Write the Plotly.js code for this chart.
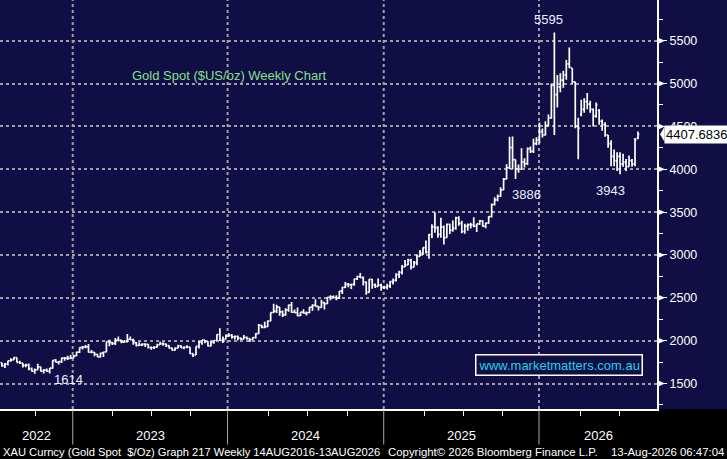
<!DOCTYPE html>
<html>
<head>
<meta charset="utf-8">
<script src="https://cdn.plot.ly/plotly-3.0.1.min.js"></script>
<style>
  html, body { margin: 0; padding: 0; background: #100e42; }
  #chart { width: 727px; height: 459px; }
</style>
</head>
<body>
<div id="chart"></div>
<script>
// Weekly XAU bars, first bar week ending 15 Jul 2022
const firstWeek = '2022-07-15';

const opens = [
  1742,1708,1727,1766,1775,1802,1747,1738,1712,1716,1675,1644,1660,1695,1644,1657,1645,1681,1771,1751,1755,1797,1797,1793,1798,
  1824,1866,1920,1926,1928,1865,1865,1842,1811,1856, 1868,1989,1978,1969,2008,2004,1983,1990,2017,2011,
  1978,1946,1948,1961,1958,1921,1919,1925,1955,1962, 1959,1943,1914,1889,1914,1940,1919,1924,1925,1849,
  1833,1933,1981,2006,1993,1940,1981,2002,2072,2004, 2019,2053,
  2063,2045,2049,2029,2018,2039,2024,2013,2036,2083, 2179,2155,2165,2230,2329,2344,2392,2337,2302,2360,
  2415,2334,2327,2293,2333,2322,2326,2392,2411,2401, 2387,2443,2431,2507,2512,2503,2497,2578,2622,2658,
  2653,2657,2721,2747,2736,2685,2563,2715,2650,2633, 2648,2622,
  2621,2640,2690,2703,2770,2798,2861,2883,2936,2858, 2910,2984,3023,3085,3037,3237,3327,3319,3240,3325,
  3202,3357,3289,3310,3433,3368,3274,3337,3355,3350, 3337,3363,3398,3336,3372,3448,3587,3643,3685,3760,
  3886,4018,4252,4112,
  4000,4000,4085,4065,4240,4210,4300,4340,4440,4400, 4510,4600,4980,4870,4960,5040,5100,5230,5180,5020,
  4500,4640,4700,4790,4760,4700,4620,4690,4560,4520, 4400,4300,4150,4100,4150,4060,4080,4030,4100,4060,
  4360
];
const highs = [
  1745,1739,1767,1795,1808,1803,1765,1740,1730,1735,1688,1676,1730,1697,1669,1675,1681,1772,1787,1761,1804,1810,1824,1833,1833,
  1870,1922,1937,1949,1960,1890,1869,1846,1858,1870, 1990,2010,1988,2032,2049,2015,2009,2079,2048,2022,
  1984,1983,1971,1971,1961,1931,1935,1963,1987,1982, 1967,1947,1917,1924,1953,1947,1931,1947,1926,1851,
  1933,1997,2009,2007,1994,1993,2007,2075,2146,2048, 2071,2088,
  2078,2062,2062,2036,2065,2048,2025,2041,2088,2195, 2185,2222,2236,2330,2431,2418,2392,2353,2378,2422,
  2450,2364,2387,2333,2368,2340,2393,2424,2484,2406, 2477,2450,2509,2531,2526,2529,2581,2625,2686,2672,
  2664,2722,2758,2790,2750,2690,2721,2721,2666,2726, 2664,2640,
  2665,2697,2726,2786,2817,2882,2942,2955,2956,2930, 3005,3057,3087,3168,3245,3358,3500,3335,3435,3345,
  3366,3365,3403,3446,3451,3398,3365,3368,3375,3439, 3363,3409,3405,3378,3453,3600,3675,3707,3791,3897,
  4059,4380,4381,4114,
  4055,4245,4130,4255,4265,4355,4375,4545,4475,4560, 4640,5000,5595,5100,5120,5150,5276,5420,5180,5020,
  4600,4810,4830,4890,4800,4710,4780,4700,4580,4550, 4400,4340,4230,4200,4200,4180,4120,4160,4120,4365,
  4440
];
const lows = [
  1697,1681,1711,1754,1774,1745,1728,1688,1691,1654,1640,1614,1660,1640,1617,1637,1616,1672,1749,1721,1739,1766,1774,1785,1795,
  1822,1856,1897,1912,1861,1853,1819,1809,1805,1809, 1865,1934,1949,1950,1992,1969,1975,1978,2007,1952,
  1932,1940,1939,1925,1910,1893,1902,1921,1954,1942, 1927,1909,1885,1885,1913,1914,1901,1913,1846,1810,
  1832,1908,1953,1970,1931,1932,1965,1999,1995,1973, 2016,2045,
  2024,2013,2001,2010,2016,2015,1984,2011,2025,2078, 2146,2146,2160,2228,2319,2324,2291,2277,2292,2338,
  2325,2326,2286,2287,2316,2293,2319,2350,2398,2353, 2383,2364,2429,2471,2491,2472,2485,2546,2614,2624,
  2603,2640,2708,2732,2643,2537,2563,2605,2614,2631, 2583,2602,
  2597,2615,2657,2690,2730,2772,2860,2880,2832,2857, 2880,2982,3000,3015,2957,3194,3260,3202,3202,3121,
  3200,3245,3271,3294,3340,3255,3247,3283,3310,3325, 3268,3350,3330,3311,3365,3436,3578,3627,3680,3759,
  3884,4003,4004,3886,
  3960,3995,4020,4050,4190,4190,4280,4300,4370,4395, 4500,4590,4400,4720,4900,4950,5044,5180,5000,4480,
  4116,4620,4660,4700,4660,4500,4600,4520,4450,4380, 4250,4035,4035,3980,3943,4030,3980,4030,4030,4035,
  4350
];
const closes = [
  1708,1727,1766,1775,1802,1747,1738,1712,1716,1675,1644,1660,1695,1644,1657,1645,1681,1771,1751,1755,1797,1797,1793,1798,1824,
  1866,1920,1926,1928,1865,1865,1842,1811,1856,1868, 1989,1978,1969,2008,2004,1983,1990,2017,2011,1978,
  1946,1948,1961,1958,1921,1919,1925,1955,1962,1959, 1943,1914,1889,1914,1940,1919,1924,1925,1849,1833,
  1933,1981,2006,1993,1940,1981,2002,2072,2004,2019, 2053,2063,
  2045,2049,2029,2018,2039,2024,2013,2036,2083,2179, 2155,2165,2230,2329,2344,2392,2337,2302,2360,2415,
  2334,2327,2293,2333,2322,2326,2392,2411,2401,2387, 2443,2431,2507,2512,2503,2497,2578,2622,2658,2653,
  2657,2721,2747,2736,2685,2563,2715,2650,2633,2648, 2622,2621,
  2640,2690,2703,2770,2798,2861,2883,2936,2858,2910, 2984,3023,3085,3037,3237,3327,3319,3240,3325,3202,
  3357,3289,3310,3433,3368,3274,3337,3355,3350,3337, 3363,3398,3336,3372,3448,3587,3643,3685,3760,3886,
  4018,4252,4112,4003,
  4000,4085,4065,4240,4210,4300,4340,4440,4400,4510, 4600,4980,4870,4960,5040,5100,5230,5190,5020,4500,
  4480,4700,4790,4760,4700,4620,4750,4560,4520,4400, 4300,4150,4100,4150,4060,4080,4030,4100,4060,4340,
  4407.6836
];

// year separators (Bloomberg draws them at the last bar of each year)
const yearLines = ['2022-12-28', '2023-12-26', '2024-12-26', '2025-12-25'];
const yearLabels = ['2022', '2023', '2024', '2025', '2026'];
const quarterTicks = ['2022-10-01', '2023-04-01', '2023-07-01', '2023-10-01', '2024-04-01', '2024-07-01',
  '2024-10-01', '2025-04-01', '2025-07-01', '2025-10-01', '2026-04-01', '2026-07-01'];
const priceTicks = [1500, 2000, 2500, 3000, 3500, 4000, 4500, 5000, 5500];

// labelled extremes: [text, bar index, value, above?, xshift, yshift]
const callouts = [
  ['5595', 185, 5595, true, -6, 4],
  ['3886', 172, 3886, false, 11, -6],
  ['3943', 207, 3943, false, -10, -7],
  ['1614', 11, 1614, false, 34, 4]
];
const lastPrice = closes[closes.length - 1];

const xRange = ['2022-07-10 13:00', '2026-09-27 14:00'];
const yRange = [1203, 5975];

function addDays(iso, n) {
  const d = new Date(iso + 'T00:00:00Z');
  d.setUTCDate(d.getUTCDate() + n);
  return d.toISOString().slice(0, 10);
}
const weeks = opens.map((_, i) => addDays(firstWeek, 7 * i));

const NAVY = '#100e44';
const GRID = '#a0a0aa';
const FONT = 'Liberation Sans, Arial, sans-serif';
const perPx = (yRange[1] - yRange[0]) / 409;

const trace = {
  type: 'ohlc',
  x: weeks,
  open: opens,
  high: highs,
  low: lows,
  close: closes,
  increasing: { line: { color: '#ffffff', width: 1.7 } },
  decreasing: { line: { color: '#ffffff', width: 1.7 } },
  tickwidth: 0.45,
  hoverinfo: 'skip',
  showlegend: false
};

const shapes = [];
// black footer strip under the plot
shapes.push({
  type: 'rect', xref: 'paper', yref: 'paper', layer: 'below',
  x0: -0.02, x1: 1.2, y0: -0.2, y1: 0,
  fillcolor: '#000000', line: { width: 0 }
});
yearLines.forEach(d => {
  shapes.push({
    type: 'line', xref: 'x', yref: 'paper', layer: 'below',
    x0: d, x1: d, y0: 0, y1: 1,
    line: { color: GRID, width: 2, dash: 'dot' }
  });
  shapes.push({
    type: 'line', xref: 'x', yref: 'paper',
    x0: d, x1: d, y0: -0.087, y1: -0.003,
    line: { color: '#a8a8a8', width: 1 }
  });
});
// arrow heads on the price ticks
priceTicks.forEach(v => {
  shapes.push({
    type: 'path', xref: 'paper', yref: 'y',
    path: 'M 1 ' + (v + 3.5 * perPx) + ' L ' + (665 / 657) + ' ' + v + ' L 1 ' + (v - 3.5 * perPx) + ' Z',
    fillcolor: '#ffffff', line: { width: 0 }
  });
});
// pointer of the last price box
shapes.push({
  type: 'path', xref: 'paper', yref: 'y',
  path: 'M ' + (660 / 657) + ' ' + lastPrice + ' L ' + (664.5 / 657) + ' ' + (lastPrice + 7.5 * perPx) +
        ' L ' + (664.5 / 657) + ' ' + (lastPrice - 7.5 * perPx) + ' Z',
  fillcolor: '#ffffff', line: { width: 0 }
});

const annotations = [];
const bounds = [xRange[0]].concat(yearLines, [xRange[1]]);
yearLabels.forEach((y, i) => {
  const a = new Date(bounds[i].replace(' ', 'T') + 'Z').getTime();
  const b = new Date(bounds[i + 1].replace(' ', 'T') + 'Z').getTime();
  annotations.push({
    xref: 'x', yref: 'paper', x: new Date((a + b) / 2).toISOString().slice(0, 19).replace('T', ' '),
    y: -0.064, text: y, showarrow: false, xanchor: 'center', yanchor: 'middle',
    font: { family: FONT, size: 13, color: '#ffffff' }
  });
});

const footFont = { family: FONT, size: 11.4, color: '#ffffff' };
annotations.push(
  { xref: 'paper', yref: 'paper', x: 1 / 657, y: -0.106, xanchor: 'left', yanchor: 'middle', showarrow: false,
    text: 'XAU Curncy (Gold Spot&nbsp;&nbsp;$/Oz) Graph 217 Weekly 14AUG2016-13AUG2026',
    font: { family: FONT, size: 11.2, color: '#ffffff' } },
  { xref: 'paper', yref: 'paper', x: 386 / 657, y: -0.106, xanchor: 'left', yanchor: 'middle', showarrow: false,
    text: 'Copyright© 2026 Bloomberg Finance L.P.', font: footFont },
  { xref: 'paper', yref: 'paper', x: 726 / 657, y: -0.106, xanchor: 'right', yanchor: 'middle', showarrow: false,
    text: '13-Aug-2026 06:47:04', font: footFont }
);

annotations.push({
  xref: 'paper', yref: 'paper', x: 130 / 657, y: (409 - 76) / 409, xanchor: 'left', yanchor: 'middle',
  showarrow: false, text: 'Gold Spot ($US/oz) Weekly Chart',
  font: { family: FONT, size: 13, color: '#86e08e' }
});

annotations.push({
  xref: 'paper', yref: 'paper', x: 475 / 657, y: (409 - 364.5) / 409, xanchor: 'left', yanchor: 'middle',
  showarrow: false, text: 'www.marketmatters.com.au',
  font: { family: FONT, size: 13, color: '#1ad6e4' },
  bgcolor: NAVY, bordercolor: '#ffffff', borderwidth: 1.5, borderpad: 2
});

callouts.forEach(([t, i, v, above, dx, dy]) => {
  annotations.push({
    xref: 'x', yref: 'y', x: weeks[i], y: v, text: t, showarrow: false,
    xanchor: 'center', yanchor: above ? 'bottom' : 'top', xshift: dx, yshift: dy,
    font: { family: FONT, size: 13, color: '#e9eeff' }
  });
});

annotations.push({
  xref: 'paper', yref: 'y', x: 664 / 657, y: lastPrice, xanchor: 'left', yanchor: 'middle',
  showarrow: false, text: lastPrice.toFixed(4),
  font: { family: FONT, size: 13, color: '#000000' },
  bgcolor: '#ffffff', borderpad: 1
});

const layout = {
  width: 727,
  height: 459,
  margin: { l: 0, r: 70, t: 0, b: 50 },
  paper_bgcolor: NAVY,
  plot_bgcolor: NAVY,
  showlegend: false,
  hovermode: false,
  font: { family: FONT, color: '#ffffff' },
  xaxis: {
    type: 'date',
    range: xRange,
    rangeslider: { visible: false },
    showgrid: false,
    zeroline: false,
    showline: true,
    linecolor: '#ffffff',
    linewidth: 2,
    ticks: 'outside',
    tickmode: 'array',
    tickvals: quarterTicks,
    ticklen: 5,
    tickwidth: 1,
    tickcolor: '#ffffff',
    showticklabels: false,
    fixedrange: true
  },
  yaxis: {
    side: 'right',
    range: yRange,
    tickmode: 'array',
    tickvals: priceTicks,
    ticktext: priceTicks.map(String),
    showgrid: true,
    gridcolor: GRID,
    gridwidth: 2,
    griddash: 'dot',
    zeroline: false,
    showline: true,
    linecolor: '#ffffff',
    linewidth: 2,
    ticks: 'outside',
    ticklen: 8,
    tickwidth: 1,
    tickcolor: '#ffffff',
    tickfont: { family: FONT, size: 12.5, color: '#ffffff' },
    minor: { dtick: 250, tick0: 0, ticks: 'outside', ticklen: 4, tickwidth: 1, tickcolor: '#ffffff', showgrid: false },
    fixedrange: true
  },
  shapes: shapes,
  annotations: annotations
};

Plotly.newPlot('chart', [trace], layout, { displayModeBar: false, staticPlot: true });
</script>
</body>
</html>
